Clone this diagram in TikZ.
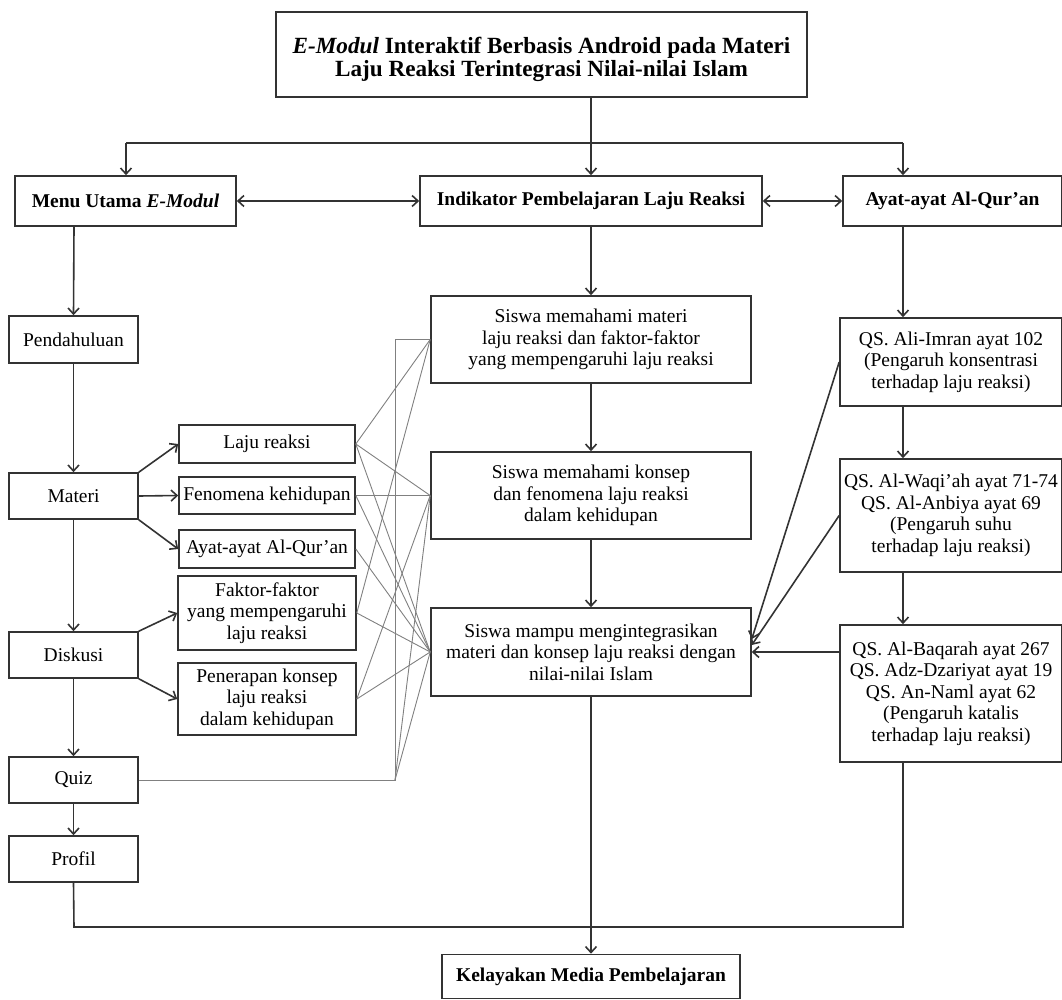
\documentclass[tikz,border=0pt]{standalone}
\usepackage{fontspec}
\setmainfont{Liberation Serif}
\usetikzlibrary{arrows.meta,calc}
\newcommand{\clrline}{black!80}
\newcommand{\clrthin}{black!50}
\newcommand{\lw}{1.6pt}

\begin{document}
\begin{tikzpicture}[x=1pt,y=-1pt,
    box/.style={draw=\clrline,line width=\lw,align=center,inner sep=0pt,
        font=\fontsize{19.5}{21.5}\selectfont},
    head/.style={box,font=\fontsize{19.5}{21.5}\selectfont\bfseries},
    arr/.style={draw=\clrline,line width=\lw,-{Straight Barb[length=6pt,width=11pt]}},
    dblarr/.style={arr,{Straight Barb[length=6pt,width=11pt]}-{Straight Barb[length=6pt,width=11pt]}},
    link/.style={draw=\clrline,line width=\lw},
    thinlink/.style={draw=\clrthin,line width=0.9pt}]

    \useasboundingbox (0,0) rectangle (1062,1000);

%%%%        Boxes
%top
    \node[head,minimum width=531pt,minimum height=85pt,
        font=\fontsize{23.2}{23}\selectfont\bfseries] (title) at (541.5,54.5)
        {\rule{0pt}{26pt}\textit{E-Modul} Interaktif Berbasis Android pada Materi\\Laju Reaksi Terintegrasi Nilai-nilai Islam};
    \node[head,minimum width=221pt,minimum height=50pt] (menu) at (125.5,201) {Menu Utama \textit{E-Modul}};
    \node[head,minimum width=342pt,minimum height=50pt] (indik) at (591,201) {Indikator Pembelajaran Laju Reaksi};
    \node[head,minimum width=219pt,minimum height=50pt] (ayat) at (952.5,201) {Ayat-ayat Al-Qur'an};
%left column
    \node[box,minimum width=129pt,minimum height=47pt] (pend) at (73.5,339.5) {Pendahuluan};
    \node[box,minimum width=129pt,minimum height=46pt] (materi) at (73.5,496) {Materi};
    \node[box,minimum width=129pt,minimum height=46pt] (diskusi) at (73.5,655) {Diskusi};
    \node[box,minimum width=129pt,minimum height=46pt] (quiz) at (73.5,780) {Quiz};
    \node[box,minimum width=129pt,minimum height=46pt] (profil) at (73.5,859) {Profil};
%sub menu
    \node[box,minimum width=176pt,minimum height=38pt] (laju) at (267,444) {Laju reaksi};
    \node[box,minimum width=176pt,minimum height=37pt] (fenom) at (267,495.5) {Fenomena kehidupan};
    \node[box,minimum width=176pt,minimum height=38pt] (ayatm) at (267,549) {Ayat-ayat Al-Qur'an};
    \node[box,minimum width=178pt,minimum height=74pt] (faktor) at (267,613) {Faktor-faktor\\yang mempengaruhi\\laju reaksi};
    \node[box,minimum width=178pt,minimum height=72pt] (terap) at (267,699) {Penerapan konsep\\laju reaksi\\dalam kehidupan};
%indikator
    \node[box,minimum width=320pt,minimum height=87pt] (ind1) at (591,339.5) {Siswa memahami materi\\laju reaksi dan faktor-faktor\\yang mempengaruhi laju reaksi};
    \node[box,minimum width=320pt,minimum height=87pt] (ind2) at (591,495.5) {Siswa memahami konsep\\dan fenomena laju reaksi\\dalam kehidupan};
    \node[box,minimum width=320pt,minimum height=88pt] (ind3) at (591,652) {Siswa mampu mengintegrasikan\\materi dan konsep laju reaksi dengan\\nilai-nilai Islam};
%ayat
    \node[box,minimum width=222pt,minimum height=88pt] (qs1) at (951,362) {QS. Ali-Imran ayat 102\\(Pengaruh konsentrasi\\terhadap laju reaksi)};
    \node[box,minimum width=222pt,minimum height=113pt] (qs2) at (951,515.5) {QS. Al-Waqi'ah ayat 71-74\\QS. Al-Anbiya ayat 69\\(Pengaruh suhu\\terhadap laju reaksi)};
    \node[box,minimum width=222pt,minimum height=137pt] (qs3) at (951,693.5) {QS. Al-Baqarah ayat 267\\QS. Adz-Dzariyat ayat 19\\QS. An-Naml ayat 62\\(Pengaruh katalis\\terhadap laju reaksi)};
%bottom
    \node[head,minimum width=298pt,minimum height=44pt] (layak) at (591,976.5) {Kelayakan Media Pembelajaran};

%%%%        Junctions
    \coordinate (hub) at (591,143);
    \coordinate (hl) at (126,143);
    \coordinate (hr) at (903,143);
    \coordinate (lc) at (74,201);
    \coordinate (bl) at (74,927);
    \coordinate (br) at (903,927);
    \coordinate (qk) at (395,780);

%%%%        Edges
    \draw[link] (title.south -| hub) -- (hub);
    \draw[link] (hl) -- (hr);
    \draw[arr] (hub) -- (indik.north);
    \draw[arr] (hl) -- (hl |- menu.north);
    \draw[arr] (hr) -- (hr |- ayat.north);
    \draw[dblarr] (menu.east) -- (indik.west);
    \draw[dblarr] (indik.east) -- (ayat.west);
%left column
    \draw[arr] (lc |- menu.south) -- (pend.north);
    \foreach\v/\w in {pend/materi,materi/diskusi,diskusi/quiz,quiz/profil}
    {
        \draw[arr] (\v.south) -- (\w.north);
    }
    \draw[arr] (materi.north east) -- (laju.west);
    \draw[arr] (materi.east) -- (fenom.west);
    \draw[arr] (materi.south east) -- (ayatm.west);
    \draw[arr] (diskusi.north east) -- (faktor.west);
    \draw[arr] (diskusi.south east) -- (terap.west);
%middle column
    \foreach\v/\w in {indik/ind1,ind1/ind2,ind2/ind3,ind3/layak}
    {
        \draw[arr] (\v.south) -- (\w.north);
    }
%right column
    \draw[arr] (hr |- ayat.south) -- (hr |- qs1.north);
    \draw[arr] (hr |- qs1.south) -- (hr |- qs2.north);
    \draw[arr] (hr |- qs2.south) -- (hr |- qs3.north);
    \draw[arr] (qs1.west) -- ([yshift=13pt]ind3.east);
    \draw[arr] (qs2.west) -- ([yshift=7pt]ind3.east);
    \draw[arr] (qs3.west |- ind3.east) -- (ind3.east);
%bottom
    \draw[link] (profil.south) -- (bl) -- (br) -- (hr |- qs3.south);

%%%%        Thin links
    \draw[thinlink] (quiz.east) -- (qk) -- (qk |- ind1.west) -- (ind1.west);
    \foreach\v/\w in {laju/ind1,laju/ind2,laju/ind3,fenom/ind2,fenom/ind3,ayatm/ind3,faktor/ind1,faktor/ind3,terap/ind2,terap/ind3}
    {
        \draw[thinlink] (\v.east) -- (\w.west);
    }
    \foreach\w in {ind2,ind3}
    {
        \draw[thinlink] (qk) -- (\w.west);
    }
\end{tikzpicture}
\end{document}
